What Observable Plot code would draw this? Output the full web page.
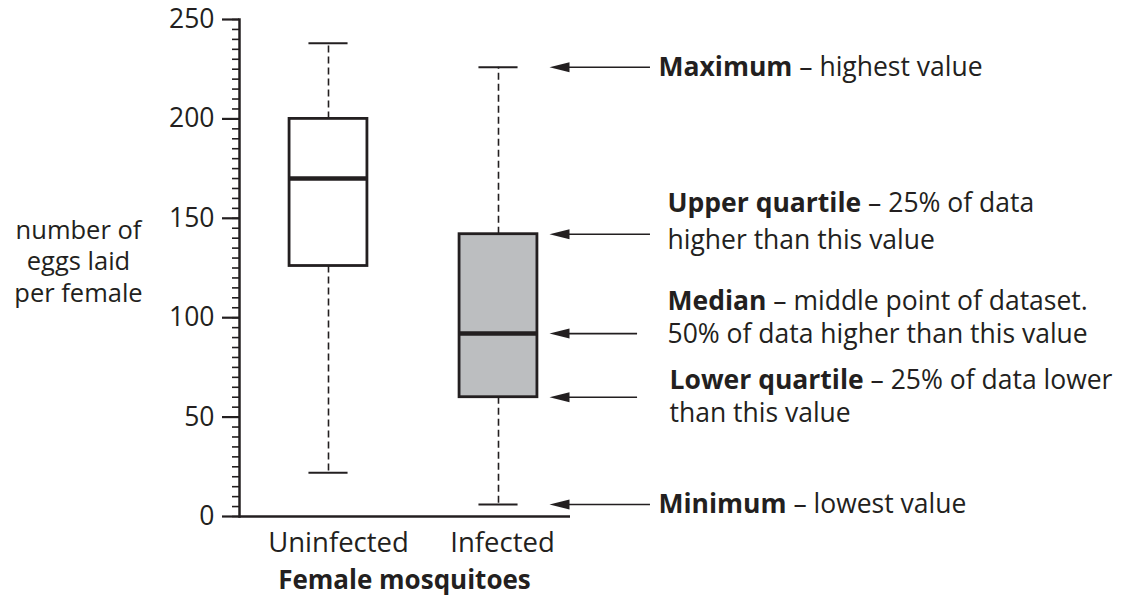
<!DOCTYPE html>
<html>
<head>
<meta charset="utf-8">
<script src="https://cdn.jsdelivr.net/npm/d3@7"></script>
<script src="https://cdn.jsdelivr.net/npm/@observablehq/plot@0.6"></script>
<style>
  html, body { margin: 0; padding: 0; background: #fff; }
  #chart svg { display: block; }
</style>
</head>
<body>
<div id="chart"></div>
<script>
// ---- data ----
const categories = ["Uninfected", "Infected"];
const minimum = [22, 6];
const lowerQuartile = [126, 60];
const median = [170, 92];
const upperQuartile = [200, 142];
const maximum = [238, 226];
const boxFill = ["#ffffff", "#bcbec0"];

const yTicks = [0, 50, 100, 150, 200, 250];
const yMinorTicks = d3.range(0, 251, 5);
const yLabel = "number of\neggs laid\nper female";
const xLabel = "Female mosquitoes";

// annotation arrows point at the Infected box statistics
const arrowTargets = [maximum[1], upperQuartile[1], median[1], lowerQuartile[1], minimum[1]];
const arrowTails = [1.894, 1.894, 1.818, 1.818, 1.894];

// annotation text lines: bold part, normal part, vertical position (in y units), left offset group
const annBold = ["Maximum", "Upper quartile", "", "Median", "", "Lower quartile", "", "Minimum"];
const annRest = [" – highest value", " – 25% of data", "higher than this value", " – middle point of dataset.", "50% of data higher than this value", " – 25% of data lower", "than this value", " – lowest value"];
const annY = [226, 157.4, 138.8, 108.1, 91.5, 68.4, 51.8, 6];
const annDx = [88, 97, 97, 97, 97, 99, 99, 88];

// ---- build tables ----
const boxes = categories.map((c, i) => ({
  name: c, i, min: minimum[i], q1: lowerQuartile[i], med: median[i],
  q3: upperQuartile[i], max: maximum[i], fill: boxFill[i]
}));
const arrows = arrowTargets.map((v, k) => ({ y: v, tail: arrowTails[k] }));
const notes = annBold.map((b, k) => ({ bold: b, rest: annRest[k], y: annY[k], dx: annDx[k] }));

const ink = "#231f20";
const font = "'Open Sans', sans-serif";
const fs = 26.5;
const boxHalf = 0.229, capHalf = 0.115, tipX = 1.3;
const catDx = [10, 4];

function noteMark(data, dx) {
  return Plot.text(data, {
    y: "y", frameAnchor: "right", dx, textAnchor: "start", lineAnchor: "middle",
    text: d => d.bold + d.rest, fill: ink, fontSize: fs,
    render(index, scales, values, dims, context, next) {
      const g = next(index, scales, values, dims, context);
      g.querySelectorAll("text").forEach((t, j) => {
        const d = data[index[j]];
        t.textContent = "";
        if (d.bold) {
          const b = document.createElementNS("http://www.w3.org/2000/svg", "tspan");
          b.setAttribute("font-weight", "bold");
          b.textContent = d.bold;
          t.appendChild(b);
        }
        const r = document.createElementNS("http://www.w3.org/2000/svg", "tspan");
        r.textContent = d.rest;
        t.appendChild(r);
      });
      return g;
    }
  });
}

const chart = Plot.plot({
  width: 1130,
  height: 598,
  marginLeft: 239,
  marginRight: 560,
  marginTop: 19,
  marginBottom: 82,
  style: { fontFamily: font, fontSize: fs + "px", color: ink, background: "#fff" },
  x: { type: "linear", domain: [0, 1], range: [328, 498], axis: null },
  y: { domain: [0, 250], axis: null },
  marks: [
    // minor ticks
    Plot.axisY({ ticks: yMinorTicks, tickSize: 7, tickFormat: () => "", label: null, stroke: ink, strokeWidth: 1.6 }),
    // major ticks + labels
    Plot.axisY({ ticks: yTicks, tickSize: 17, tickPadding: 8, label: null, stroke: ink, strokeWidth: 2.2, fill: ink, fontSize: 26.5 }),
    Plot.frame({ anchor: "left", stroke: ink, strokeWidth: 2.5 }),
    Plot.ruleY([0], { stroke: ink, strokeWidth: 2.5 }),
    // x category labels
    ...boxes.map(b => Plot.text([b], { x: "i", y: 0, text: "name", dy: 27, dx: catDx[b.i], lineAnchor: "middle", fill: ink, fontSize: 27.5 })),
    // whiskers
    Plot.ruleX(boxes, { x: "i", y1: "q3", y2: "max", stroke: ink, strokeWidth: 1.6, strokeDasharray: "7,4" }),
    Plot.ruleX(boxes, { x: "i", y1: "q1", y2: "min", stroke: ink, strokeWidth: 1.6, strokeDasharray: "7,4" }),
    Plot.ruleY(boxes, { y: "max", x1: d => d.i - capHalf, x2: d => d.i + capHalf, stroke: ink, strokeWidth: 2 }),
    Plot.ruleY(boxes, { y: "min", x1: d => d.i - capHalf, x2: d => d.i + capHalf, stroke: ink, strokeWidth: 2 }),
    // boxes
    Plot.rect(boxes, { x1: d => d.i - boxHalf, x2: d => d.i + boxHalf, y1: "q1", y2: "q3", fill: "fill", stroke: ink, strokeWidth: 2.8 }),
    Plot.ruleY(boxes, { y: "med", x1: d => d.i - boxHalf, x2: d => d.i + boxHalf, stroke: ink, strokeWidth: 4.5 }),
    // annotation arrows
    Plot.ruleY(arrows, { y: "y", x1: tipX + 0.05, x2: "tail", stroke: ink, strokeWidth: 1.6 }),
    Plot.dot(arrows, {
      x: tipX, y: "y", r: 5, fill: ink, stroke: "none",
      symbol: { draw(ctx) { ctx.moveTo(0, 0); ctx.lineTo(20, -5); ctx.lineTo(20, 5); ctx.closePath(); } }
    }),
    // annotation texts with bold lead-in
    ...Array.from(new Set(annDx)).map(dx => noteMark(notes.filter(d => d.dx === dx), dx)),
    // y axis title
    Plot.text([yLabel], { frameAnchor: "left", y: 128.8, dx: -161, text: d => d, textAnchor: "middle", lineAnchor: "middle", lineHeight: 1.22, fill: ink, fontSize: 25.5 }),
    // x axis title
    Plot.text([xLabel], { x: 0.447, y: 0, dy: 64, text: d => d, textAnchor: "middle", lineAnchor: "middle", fontWeight: "bold", fill: ink, fontSize: 26 })
  ]
});

document.getElementById("chart").appendChild(chart);
</script>
</body>
</html>
